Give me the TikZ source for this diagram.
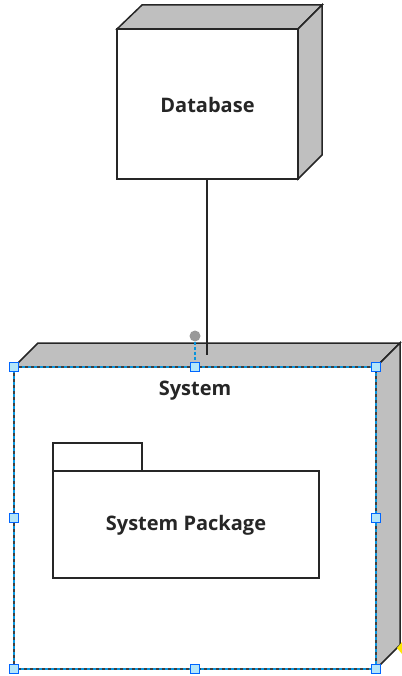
\documentclass[tikz,border=0pt]{standalone}
\usepackage{fontspec}
\setmainfont{Open Sans}
\begin{document}
\begin{tikzpicture}[x=1pt,y=-1pt,
  edge/.style={draw=black!85, line width=1.5pt, line join=miter},
  face/.style={edge, fill=white},
  side/.style={edge, fill=black!25},
  lbl/.style={font=\fontsize{20}{22}\selectfont\bfseries, text=black!85},
  handle/.style={draw=blue!60!cyan, fill=cyan!30, line width=1pt, minimum size=8.5pt, inner sep=0pt, shape=rectangle}]
\useasboundingbox (0,0) rectangle (401,676);
% Database node
\path[side] (117,29) -- (142,5) -- (322,5) -- (298,29) -- cycle;
\path[side] (298,29) -- (322,5) -- (322,155) -- (298,179) -- cycle;
\path[face] (117,29) rectangle (298,179);
\node[lbl] (db) at (207.5,105) {Database};
\coordinate (dbb) at (207,179);
% System node
\path[side] (14,367) -- (38,343) -- (400,343) -- (376,367) -- cycle;
\path[side] (376,367) -- (400,343) -- (400,645) -- (376,669) -- cycle;
\path[face] (14,367) rectangle (376,669);
\coordinate (sysin) at (207,355);
\draw[edge] (dbb) -- (sysin);
\node[lbl] (sys) at (195,391) {System};
% package
\path[face] (53,443) rectangle (142,471);
\path[face] (53,471) rectangle (319,578);
\node[lbl] (pkg) at (186,525) {System Package};
% selection overlay
\draw[draw=black!75, dash pattern=on 3pt off 3pt, line width=1.2pt] (14,367) rectangle (376,669);
\draw[draw=cyan!80!blue, dash pattern=on 3pt off 3pt, dash phase=3pt, line width=1.2pt] (14,367) rectangle (376,669);
\node[circle, fill=black!40, inner sep=0pt, minimum size=11pt] (rot) at (195,336) {};
\draw[draw=cyan!80!blue, dash pattern=on 3pt off 2pt, line width=1.2pt] (rot) -- (195,367);
\foreach \p [count=\i] in {(14,367),(195,367),(376,367),(14,518),(376,518),(14,669),(195,669),(376,669)}
  \node[handle] (h\i) at \p {};
\fill[yellow!90!orange] (402,642) -- (397,648) -- (402,654) -- cycle;
\end{tikzpicture}
\end{document}
